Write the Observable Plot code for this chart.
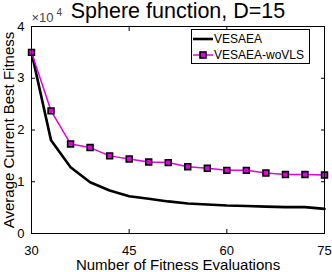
<!DOCTYPE html>
<html><head><meta charset="utf-8">
<script src="https://cdn.jsdelivr.net/npm/d3@7"></script>
<script src="https://cdn.jsdelivr.net/npm/@observablehq/plot@0.6"></script>
<style>
body{margin:0;background:#fff;font-family:"Liberation Sans",Arial,sans-serif;}
#wrap{position:relative;width:332px;height:272px;}
#legend{position:absolute;left:191px;top:29px;width:117px;height:33px;border:1px solid #000;background:#fff;font-size:12px;color:#000;}
#legend .row{position:absolute;left:1px;height:16px;display:flex;align-items:center;}
#legend svg{margin-right:1px;}
</style>
</head><body>
<div id="wrap"></div>
<script>
const evals = [30,33,36,39,42,45,48,51,54,57,60,63,66,69,72,75];
const vesaea = [35000,18000,12800,9900,8300,7200,6700,6200,5800,5600,5400,5300,5200,5100,5100,4750];
const woVLS = [35000,23700,17300,16600,15000,14400,13800,13700,12900,12600,12200,12200,11700,11400,11400,11300];
const xTicks = [30,45,60,75];
const yTicks = [0,10000,20000,30000,40000];
const seriesNames = ["VESAEA","VESAEA-woVLS"];
const title = "Sphere function, D=15";
const xLabel = "Number of Fitness Evaluations";
const yLabel = "Average Current Best Fitness";

const rowsA = evals.map((e,i)=>({x:e,y:vesaea[i]}));
const rowsB = evals.map((e,i)=>({x:e,y:woVLS[i]}));
const one = [0];

const chart = Plot.plot({
  width:332, height:272,
  marginLeft:31, marginRight:8, marginTop:26, marginBottom:39,
  style:{fontFamily:'"Liberation Sans",Arial,sans-serif', fontSize:"13px", color:"#000", background:"#fff"},
  x:{domain:[30,75]},
  y:{domain:[0,40000]},
  marks:[
    Plot.axisX(xTicks,{anchor:"bottom", tickSize:0, tickPadding:12, label:null, tickFormat:d=>d, fontSize:13}),
    Plot.axisY(yTicks,{anchor:"left", tickSize:0, tickPadding:7, label:null, tickFormat:d=>d/10000, fontSize:13}),
    Plot.axisX(xTicks,{anchor:"bottom", tickSize:4, dy:-4, text:null, label:null}),
    Plot.axisX(xTicks,{anchor:"top", tickSize:4, dy:4, text:null, label:null}),
    Plot.axisY(yTicks,{anchor:"left", tickSize:4, dx:4, text:null, label:null}),
    Plot.axisY(yTicks,{anchor:"right", tickSize:4, dx:-4, text:null, label:null}),
    Plot.line(rowsA,{x:"x",y:"y",stroke:"#000",strokeWidth:2.6}),
    Plot.line(rowsB,{x:"x",y:"y",stroke:"#e000e0",strokeWidth:1.5}),
    Plot.dot(rowsB,{x:"x",y:"y",symbol:"square",r:3.3,fill:"#e000e0",stroke:"#000",strokeWidth:1.6}),
    Plot.frame({stroke:"#000",strokeWidth:1}),
    Plot.text(one,{frameAnchor:"top",text:[title],lineAnchor:"middle",dy:-15,fontSize:21.5}),
    Plot.text(one,{frameAnchor:"top-left",text:["×10"],textAnchor:"start",lineAnchor:"middle",dy:-9,dx:0,fontSize:13,fill:"#444"}),
    Plot.text(one,{frameAnchor:"top-left",text:["4"],textAnchor:"start",lineAnchor:"middle",dy:-14,dx:25,fontSize:10,fill:"#444"}),
    Plot.text(one,{frameAnchor:"bottom",text:[xLabel],lineAnchor:"middle",textAnchor:"middle",dy:32,fontSize:15}),
    Plot.text(one,{frameAnchor:"left",text:[yLabel],lineAnchor:"middle",textAnchor:"middle",rotate:-90,dx:-22,fontSize:15})
  ]
});
const wrap = document.getElementById("wrap");
wrap.appendChild(chart);
const leg = document.createElement("div");
leg.id = "legend";
leg.innerHTML = `
<div class="row" style="top:1px"><svg width="20" height="8"><line x1="0" y1="4" x2="20" y2="4" stroke="#000" stroke-width="2.6"/></svg><span>${seriesNames[0]}</span></div>
<div class="row" style="top:17px"><svg width="20" height="10"><line x1="0" y1="5" x2="20" y2="5" stroke="#e000e0" stroke-width="1.5"/><rect x="7" y="2" width="6" height="6" fill="#e000e0" stroke="#000" stroke-width="1.6"/></svg><span>${seriesNames[1]}</span></div>`;
wrap.appendChild(leg);
</script>
</body></html>
